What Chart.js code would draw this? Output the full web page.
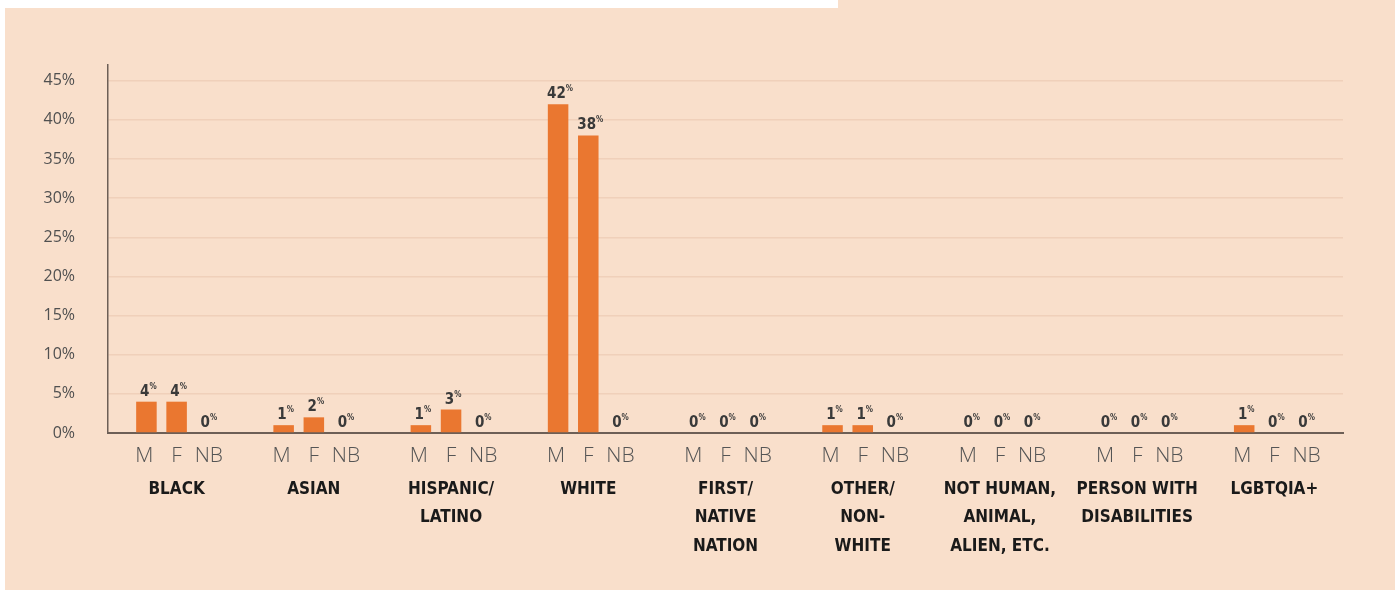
<!DOCTYPE html>
<html>
<head>
<meta charset="utf-8">
<script src="https://cdn.jsdelivr.net/npm/chart.js@4"></script>
<style>
  html, body { margin: 0; padding: 0; background: #ffffff; }
  body { width: 1400px; height: 598px; position: relative; overflow: hidden; }
  .panel { position: absolute; background: #f9dfcb; }
  #panel { left: 5px; top: 8px; width: 1390px; height: 582px; }
  #panelTop { left: 838px; top: 0; width: 557px; height: 10px; }
  #chart { position: absolute; left: 0; top: 0; }
</style>
</head>
<body>
<div class="panel" id="panel"></div>
<div class="panel" id="panelTop"></div>
<canvas id="chart" width="1400" height="598"></canvas>
<script>
// groups along the bottom, each with M / F / NB bars
const groups = [
  ['BLACK'],
  ['ASIAN'],
  ['HISPANIC/', 'LATINO'],
  ['WHITE'],
  ['FIRST/', 'NATIVE', 'NATION'],
  ['OTHER/', 'NON-', 'WHITE'],
  ['NOT HUMAN,', 'ANIMAL,', 'ALIEN, ETC.'],
  ['PERSON WITH', 'DISABILITIES'],
  ['LGBTQIA+']
];
const genders = ['M', 'F', 'NB'];
const male = [4, 1, 1, 42, 0, 1, 0, 0, 1];
const female = [4, 2, 3, 38, 0, 1, 0, 0, 0];
const nonBinary = [0, 0, 0, 0, 0, 0, 0, 0, 0];
const yTicks = [0, 5, 10, 15, 20, 25, 30, 35, 40, 45];

const orange = '#ea7730';

// value label above each bar, small superscript percent sign
const valueLabels = {
  id: 'valueLabels',
  afterDatasetsDraw(chart) {
    const ctx = chart.ctx;
    ctx.save();
    chart.data.datasets.forEach((ds, di) => {
      const meta = chart.getDatasetMeta(di);
      meta.data.forEach((bar, i) => {
        const num = String(ds.data[i]);
        ctx.font = 'bold 15px "DejaVu Sans Condensed"';
        const w = ctx.measureText(num).width;
        ctx.font = 'bold 8px "DejaVu Sans Condensed"';
        const pw = ctx.measureText('%').width;
        const x0 = bar.x - (w + pw) / 2 + 2;
        const y = bar.y - 6;
        ctx.fillStyle = '#3a3a3a';
        ctx.textBaseline = 'alphabetic';
        ctx.textAlign = 'left';
        ctx.font = 'bold 15px "DejaVu Sans Condensed"';
        ctx.fillText(num, x0, y);
        ctx.font = 'bold 8px "DejaVu Sans Condensed"';
        ctx.fillText('%', x0 + w, y - 7);
      });
    });
    ctx.restore();
  }
};

// M / F / NB under each bar
const genderLabels = {
  id: 'genderLabels',
  afterDraw(chart) {
    const ctx = chart.ctx;
    const y = chart.chartArea.bottom + 23;
    ctx.save();
    ctx.font = '300 21px "Open Sans"';
    ctx.fillStyle = '#555555';
    ctx.textAlign = 'center';
    ctx.textBaseline = 'middle';
    chart.data.datasets.forEach((ds, di) => {
      chart.getDatasetMeta(di).data.forEach(bar => {
        ctx.fillText(genders[di], bar.x + (di - 1) * 2, y);
      });
    });
    ctx.restore();
  }
};

new Chart(document.getElementById('chart'), {
  type: 'bar',
  data: {
    labels: groups,
    datasets: [
      { label: 'M', data: male, backgroundColor: orange },
      { label: 'F', data: female, backgroundColor: orange },
      { label: 'NB', data: nonBinary, backgroundColor: orange }
    ]
  },
  options: {
    responsive: false,
    animation: false,
    devicePixelRatio: 1,
    layout: { padding: { top: 65, right: 57, left: 0, bottom: 0 } },
    categoryPercentage: 0.66,
    barPercentage: 0.68,
    plugins: {
      legend: { display: false },
      tooltip: { enabled: false }
    },
    scales: {
      x: {
        grid: { display: false, drawTicks: false },
        border: { color: '#6d5f56', width: 2 },
        ticks: {
          padding: 43,
          color: '#1a1a1a',
          font: { family: '"DejaVu Sans Condensed"', weight: 'bold', size: 17, lineHeight: 1.65 },
          maxRotation: 0,
          autoSkip: false
        },
        afterFit(scale) { scale.height = 165; }
      },
      y: {
        min: 0,
        max: 47,
        afterBuildTicks(scale) { scale.ticks = yTicks.map(v => ({ value: v })); },
        grid: { color: '#f0d0ba', lineWidth: 1.5, drawTicks: false },
        border: { color: '#6d5f56', width: 1.5 },
        ticks: {
          padding: 33,
          color: '#505050',
          font: { family: '"Open Sans"', size: 16 },
          callback: v => v + '%'
        },
        afterFit(scale) { scale.width = 108; }
      }
    }
  },
  plugins: [valueLabels, genderLabels]
});
</script>
</body>
</html>
